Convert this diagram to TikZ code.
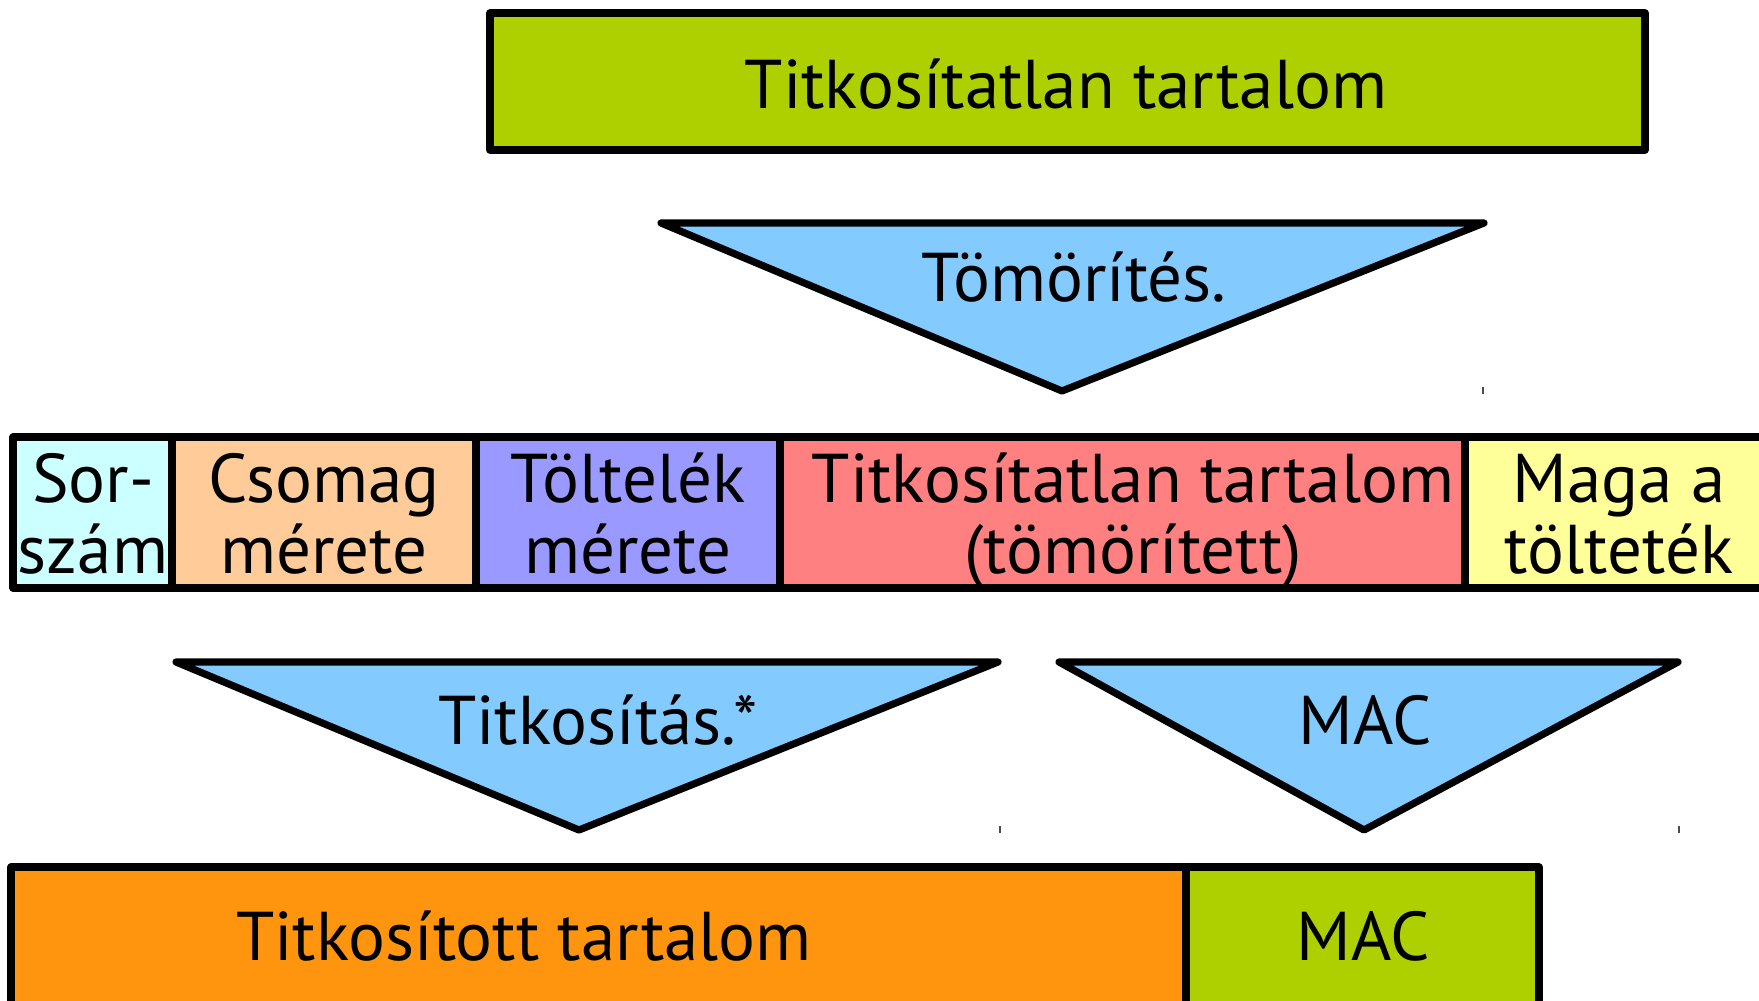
\documentclass[tikz,border=0pt]{standalone}
\usepackage{fontspec}
\setmainfont{PT Sans}
\usepackage{xcolor}
\definecolor{limegreen}{RGB}{174,207,0}
\definecolor{funnelblue}{RGB}{131,202,255}
\definecolor{paleblue}{RGB}{204,255,255}
\definecolor{peach}{RGB}{255,204,153}
\definecolor{lilac}{RGB}{153,153,255}
\definecolor{salmon}{RGB}{255,128,128}
\definecolor{paleyellow}{RGB}{255,255,153}
\definecolor{deeporange}{RGB}{255,149,14}
\usepackage{tikz}

\begin{document}
\begin{tikzpicture}[x=0.5pt,y=-0.5pt,
  cellbox/.style={draw=black,line width=3.6pt,line join=round},
  funnel/.style={draw=black,fill=funnelblue,line width=3.6pt,line join=round},
  tick/.style={draw=black!70,line width=0.6pt},
  every node/.style={font=\fontsize{34.5}{35.5}\selectfont,align=center,inner sep=0pt,text=black}]
\useasboundingbox (0,0) rectangle (1759,1000);
\clip (0,0) rectangle (1759,1000);

% plain content
\path[cellbox,fill=limegreen] (490,13) rectangle (1645,150);
\node (plain) at (1066,84) {Titkosítatlan tartalom};

% compression
\path[funnel] (661,223) -- (1484,223) -- (1062,391) -- cycle;
\node (compress) at (1074,277) {Tömörítés.};
\draw[tick] (1483,387) -- (1483,394);

% record fields
\path[cellbox,fill=paleblue]  (13,437) rectangle (172,588);
\path[cellbox,fill=peach]     (172,437) rectangle (476,588);
\path[cellbox,fill=lilac]     (476,437) rectangle (780,588);
\path[cellbox,fill=salmon]    (780,437) rectangle (1465,588);
\path[cellbox,fill=paleyellow] (1465,437) rectangle (1775,588);
\node (seqno)   at (93,514)   {Sor-\\szám};
\node (pktsize) at (324,514)  {Csomag\\mérete};
\node (padsize) at (628,514)  {Töltelék\\mérete};
\node (packed)  at (1133,521) {Titkosítatlan tartalom\\(tömörített)};
\node (padding) at (1619,514) {Maga a\\tölteték};

% encryption and MAC
\path[funnel] (176,662) -- (998,662) -- (579,830) -- cycle;
\node (encrypt) at (598,720) {Titkosítás.*};
\draw[tick] (1000,826) -- (1000,833);
\path[funnel] (1059,662) -- (1678,662) -- (1364,830) -- cycle;
\node (macstep) at (1365,720) {MAC};
\draw[tick] (1679,826) -- (1679,833);

% output
\path[cellbox,fill=deeporange] (11,867) rectangle (1186,1030);
\path[cellbox,fill=limegreen]  (1186,867) rectangle (1539,1030);
\node (cipher) at (524,936) {Titkosított tartalom};
\node (mac)    at (1363,936) {MAC};
\end{tikzpicture}
\end{document}
